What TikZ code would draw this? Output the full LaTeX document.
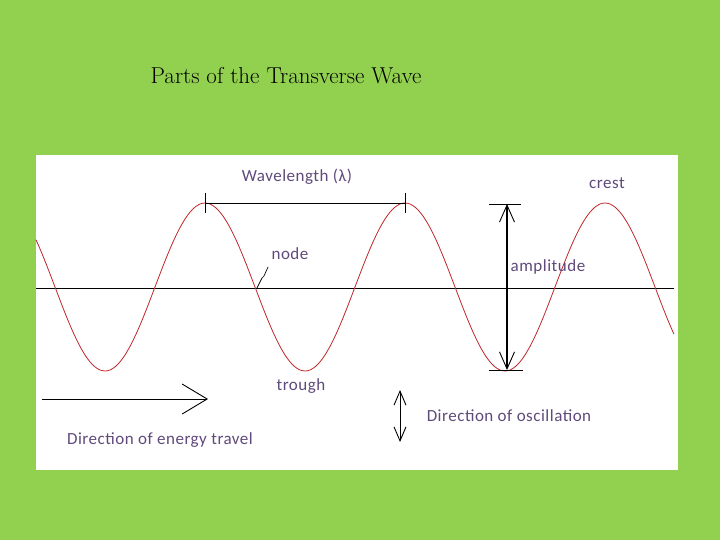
\documentclass[tikz,border=0pt]{standalone}
\usepackage{fontspec}
\newfontfamily\labelfont[LetterSpace=3]{Carlito}
\usetikzlibrary{arrows.meta}
\definecolor{bggreen}{HTML}{92D050}
\definecolor{lblpurple}{HTML}{604A7B}
\definecolor{wavered}{HTML}{C0282A}
\tikzset{
  lbl/.style={font=\labelfont\fontsize{17}{20}\selectfont, text=lblpurple, inner sep=0pt},
  thinline/.style={draw=black, line width=0.9pt},
}
\begin{document}
\begin{tikzpicture}[x=1pt,y=-1pt]
\useasboundingbox (0,0) rectangle (720,540);
\fill[bggreen] (0,0) rectangle (720,540);
\fill[white] (36,155) rectangle (678,470);
\node[font=\fontsize{23}{27}\selectfont, inner sep=0pt] (title) at (286,76) {Parts of the Transverse Wave};
% axis
\coordinate (axL) at (36,288);
\coordinate (axR) at (674,288);
\draw[thinline] (axL) -- (axR);
% wave
\draw[wavered, line width=0.8pt, domain=36:674, samples=250, variable=\t] plot (\t, {287-84*cos(1.8*(\t-205))});
% wavelength
\coordinate (wl1) at (205,203);
\coordinate (wl2) at (405,203);
\draw[thinline] (wl1) -- (wl2);
\draw[thinline] (205,193) -- (205,213);
\draw[thinline] (405,193) -- (405,213);
\node[lbl] (wavelength) at (297,177) {Wavelength (λ)};
% crest, node, trough
\node[lbl] (crest) at (607,183) {crest};
\node[lbl] (nodelbl) at (290,254) {node};
\coordinate (nodept) at (257,288);
\coordinate (nodeend) at (268,267);
\draw[black, line width=0.7pt] (nodept) -- (262,278) -- (264,276) -- (nodeend);
\node[lbl] (trough) at (301,386) {trough};
% amplitude
\coordinate (amtop) at (507,204);
\coordinate (ambot) at (507,370);
\draw[thinline] (489,204) -- (521,204);
\draw[thinline] (489,370) -- (523,370);
\draw[line width=1.6pt, {Straight Barb[length=17pt, width=15pt, line width=0.9pt]}-{Straight Barb[length=17pt, width=15pt, line width=0.9pt]}] (amtop) -- (ambot);
\node[lbl] (amplitude) at (548,267) {amplitude};
% energy travel
\coordinate (enL) at (42,399);
\coordinate (enR) at (208,399);
\draw[thinline, -{Straight Barb[length=25pt, width=30pt, line width=0.9pt]}] (enL) -- (enR);
\node[lbl] (energy) at (160,440) {Direction of energy travel};
% oscillation
\coordinate (osT) at (400,390);
\coordinate (osB) at (400,442);
\draw[thinline, {Straight Barb[length=14pt, width=12pt, line width=0.9pt]}-{Straight Barb[length=14pt, width=12pt, line width=0.9pt]}] (osT) -- (osB);
\node[lbl] (oscillation) at (509,416) {Direction of oscillation};
\end{tikzpicture}
\end{document}
